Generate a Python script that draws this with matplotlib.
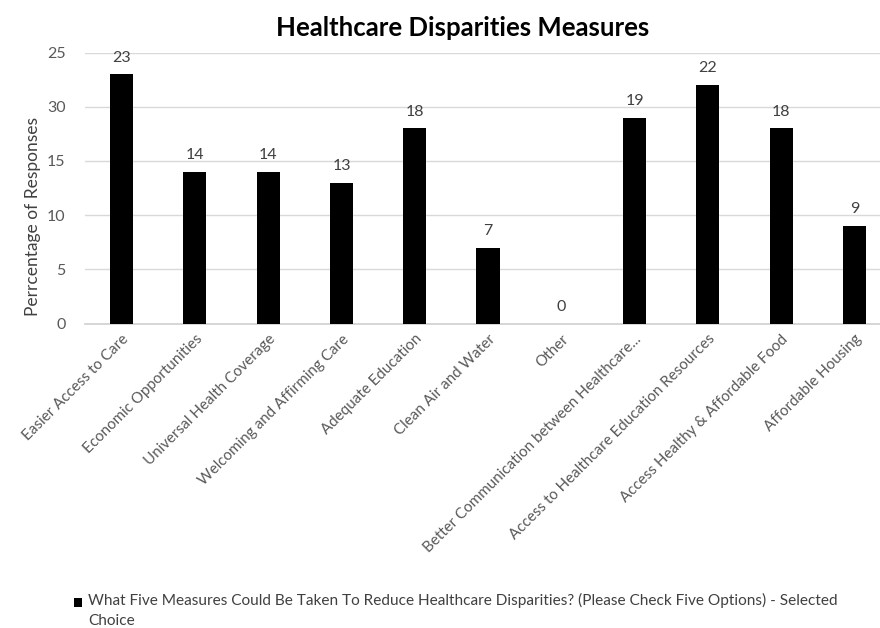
import matplotlib.pyplot as plt
from matplotlib.patches import Rectangle

# data
measures = ['Easier Access to Care', 'Economic Opportunities', 'Universal Health Coverage',
            'Welcoming and Affirming Care', 'Adequate Education', 'Clean Air and Water', 'Other',
            'Better Communication between Healthcare...', 'Access to Healthcare Education Resources',
            'Access Healthy & Affordable Food', 'Affordable Housing']
responses = [23, 14, 14, 13, 18, 7, 0, 19, 22, 18, 9]
ytick_vals = [0, 5, 10, 15, 20, 25]
ytick_text = ['0', '5', '10', '15', '30', '25']  # as printed on the original

plt.rcParams['font.family'] = ['Lato', 'DejaVu Sans']
grey = '#595959'

W, H = 880, 628
fig = plt.figure(figsize=(W / 100, H / 100), dpi=100)
fig.patch.set_facecolor('white')

# plot area in pixels: x 85..891 (runs off the right edge), y 52..324
ax = fig.add_axes([85 / W, (H - 323.6) / H, 806 / W, 271 / H])
x = range(len(measures))
ax.bar(x, responses, width=0.315, color='black', zorder=3)
ax.set_xlim(-0.5, len(measures) - 0.5)
ax.set_ylim(0, 25)

for xi, v in zip(x, responses):
    ax.annotate(str(v), (xi, v), xytext=(0, 7), textcoords='offset points',
                ha='center', va='bottom', fontsize=11.5, color='#404040')

ax.set_yticks(ytick_vals)
ax.set_yticklabels(ytick_text, fontsize=11.5, color=grey)
ax.yaxis.grid(True, color='#d9d9d9', linewidth=1, zorder=0)
ax.tick_params(axis='y', length=0, pad=14)
ax.set_xticks(list(x))
ax.set_xticklabels(measures, rotation=45, ha='right', rotation_mode='anchor',
                   fontsize=10.9, color=grey)
ax.tick_params(axis='x', length=0, pad=6)
for side in ['left', 'right', 'top']:
    ax.spines[side].set_visible(False)
ax.spines['bottom'].set_color('#d0d0d0')
ax.spines['bottom'].set_linewidth(1.2)

fig.text(463 / W, 1 - 28 / H, 'Healthcare Disparities Measures', ha='center', va='center',
         fontsize=18.5, fontweight='bold', color='black')
fig.text(33 / W, 1 - 217 / H, 'Perrcentage of Responses', rotation=90, ha='center',
         va='center', fontsize=12.5, color='#404040')

# legend: square marker and wrapped series name
fig.patches.append(Rectangle((74 / W, 1 - 607 / H), 8 / W, 9 / H, transform=fig.transFigure,
                             facecolor='black', edgecolor='none'))
fig.text(88 / W, 1 - 593 / H,
         'What Five Measures Could Be Taken To Reduce Healthcare Disparities? (Please Check Five Options) - Selected\nChoice',
         ha='left', va='top', fontsize=11.1, color='#404040', linespacing=1.5)

fig.savefig('out.png', dpi=100, facecolor='white')
